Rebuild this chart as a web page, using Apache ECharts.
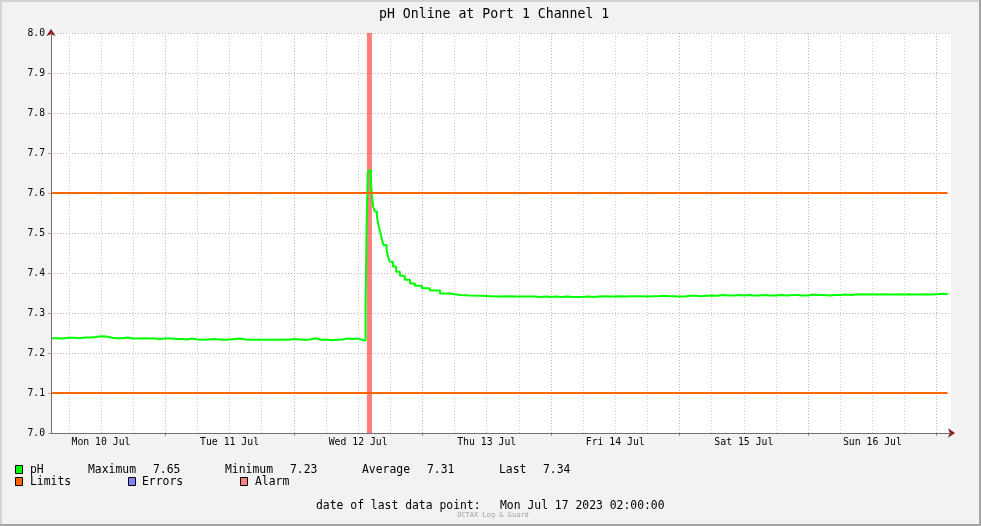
<!DOCTYPE html>
<html><head><meta charset="utf-8">
<script src="https://cdn.jsdelivr.net/npm/echarts@6/dist/echarts.min.js"></script>
<style>
html,body{margin:0;padding:0;background:#f2f2f2;overflow:hidden;}
#chart{position:absolute;left:0;top:0;width:981px;height:526px;}
.b{position:absolute;}
</style></head><body>
<div id="chart"></div>
<div class="b" style="left:0;top:0;width:981px;height:2px;background:#d4d4d4"></div>
<div class="b" style="left:0;top:0;width:2px;height:526px;background:#d4d4d4"></div>
<div class="b" style="right:0;top:0;width:2px;height:526px;background:#a4a4a4"></div>
<div class="b" style="left:0;bottom:0;width:981px;height:2px;background:#a4a4a4"></div>
<script>
const FONT = "'DejaVu Sans Mono', monospace";
const chartTitle = 'pH Online at Port 1 Channel 1';
// time in hours since Mon 10 Jul 2023 00:00
const rangeStart = 2.67, rangeEnd = 170.67;
const yMin = 7.0, yMax = 8.0, yStep = 0.1;
const dayLabelHours = [12, 36, 60, 84, 108, 132, 156];
const dayLabels = ['Mon 10 Jul', 'Tue 11 Jul', 'Wed 12 Jul', 'Thu 13 Jul', 'Fri 14 Jul', 'Sat 15 Jul', 'Sun 16 Jul'];
const midnightHours = [24, 48, 72, 96, 120, 144, 168];
const quarterHours = [6, 12, 18, 30, 36, 42, 54, 60, 66, 78, 84, 90, 102, 108, 114, 126, 132, 138, 150, 156, 162];

const phHours = [2.67,
  3,4,5,6,7,8,9,10,11,12,
  13,14,15,16,17,18,19,20,21,22,
  23,24,25,26,27,28,29,30,31,32,
  33,34,35,36,37,38,39,40,41,42,
  43,44,45,46,47,48,49,50,51,52,
  53,54,55,56,57,58,59,60,61,
  61.4,61.6,61.8,62.0,62.4,62.6,62.8,63.1,63.5,63.8,64.1,64.4,64.7,65.3,65.6,65.9,66.5,67.1,67.8,68.7,69.7,70.6,71.9,73.4,75.3,77.1,79,80.9,83,84.6,86,88,90,
  92,93,94,95,96,97,98,99,100,101,
  102,103,104,105,106,107,108,109,110,111,
  112,113,114,115,116,117,118,119,120,121,
  122,123,124,125,126,127,128,129,130,131,
  132,133,134,135,136,137,138,139,140,141,
  142,143,144,145,146,147,148,149,150,151,
  152,153,154,155,156,157,158,159,160,161,
  162,163,164,165,166,167,168,169,170];
const phValues = [7.237,
  7.237,7.236,7.238,7.238,7.237,7.239,7.239,7.240,7.242,7.241,
  7.238,7.237,7.237,7.239,7.236,7.236,7.237,7.236,7.236,7.235,
  7.236,7.236,7.235,7.235,7.234,7.236,7.234,7.233,7.234,7.235,
  7.234,7.233,7.234,7.235,7.236,7.234,7.233,7.233,7.233,7.233,
  7.233,7.233,7.234,7.233,7.235,7.234,7.233,7.234,7.237,7.233,
  7.234,7.232,7.233,7.234,7.236,7.235,7.236,7.232,7.231,
  7.328,7.533,7.650,7.656,7.624,7.591,7.566,7.554,7.541,7.520,7.503,7.487,7.470,7.458,7.440,7.428,7.416,7.403,7.393,7.383,7.374,7.368,7.362,7.356,7.349,7.345,7.344,7.343,7.342,7.341,7.342,7.341,7.341,
  7.341,7.340,7.341,7.340,7.341,7.340,7.341,7.340,7.340,7.340,
  7.341,7.340,7.341,7.342,7.341,7.341,7.342,7.341,7.342,7.342,
  7.342,7.341,7.342,7.342,7.343,7.342,7.342,7.341,7.341,7.343,
  7.343,7.342,7.343,7.344,7.343,7.345,7.344,7.344,7.345,7.344,
  7.345,7.344,7.344,7.345,7.344,7.344,7.345,7.344,7.345,7.345,
  7.344,7.344,7.346,7.345,7.345,7.344,7.345,7.345,7.346,7.345,
  7.346,7.347,7.346,7.347,7.346,7.347,7.346,7.346,7.347,7.346,
  7.347,7.346,7.346,7.347,7.346,7.347,7.348,7.347,7.345];

const limitHours = [2.67, 170];
const limitUpper = [7.6, 7.6];
const limitLower = [7.1, 7.1];
const alarmStart = 61.64, alarmEnd = 62.58;

const statLabels = ['Maximum', 'Minimum', 'Average', 'Last'];
const statValues = ['7.65', '7.23', '7.31', '7.34'];
const lastDataPoint = 'Mon Jul 17 2023 02:00:00';

const C_PH = '#00ff00', C_LIM = '#ff6600', C_ERR = '#7f7fff', C_ALARM = '#ff7f7f';
const GRID_MAJOR = '#dcaaaa', GRID_MINOR = '#cfcfcf';
const AXIS_GREY = '#707070', ARROW_RED = '#8b1a1a';

const chart = echarts.init(document.getElementById('chart'), null, {renderer: 'canvas'});

const LF = '11.4px ' + FONT;
function txt(x, y, s, extra) {
  return Object.assign({type: 'text', x: x, y: y, silent: true,
    style: {text: s, font: LF, fill: '#000', verticalAlign: 'middle', textVerticalAlign: 'middle'}}, extra || {});
}
function box(x, y, color) {
  return {type: 'rect', silent: true, shape: {x: x + 0.5, y: y + 0.5, width: 7, height: 8},
    style: {fill: color, stroke: '#000', lineWidth: 1}};
}
const statX = [[88, 153], [225, 290], [362, 427], [499, 543]];
const graphics = [
  box(15, 465, C_PH), txt(30, 470, 'pH'),
  box(15, 477, C_LIM), txt(30, 482, 'Limits'),
  box(128, 477, C_ERR), txt(142, 482, 'Errors'),
  box(240, 477, C_ALARM), txt(255, 482, 'Alarm'),
  txt(316, 506, 'date of last data point:'),
  txt(500, 506, lastDataPoint),
  {type: 'text', x: 493, y: 515, silent: true,
   style: {text: 'OCTAX Log & Guard', font: '7px ' + FONT, fill: '#a0a0a0', align: 'center', textAlign: 'center', verticalAlign: 'middle', textVerticalAlign: 'middle'}}
];
statLabels.forEach((l, i) => {
  graphics.push(txt(statX[i][0], 470, l));
  graphics.push(txt(statX[i][1], 470, statValues[i]));
});

const baseX = {
  type: 'value', min: rangeStart, max: rangeEnd, position: 'bottom', gridIndex: 0
};

chart.setOption({
  animation: false,
  backgroundColor: 'transparent',
  title: {
    text: chartTitle, left: 374, top: 3,
    textStyle: {fontFamily: FONT, fontSize: 13.2, fontWeight: 'normal', color: '#000'}
  },
  grid: {left: 51, top: 33, right: 30, bottom: 93, show: true, backgroundColor: '#ffffff', borderWidth: 0},
  xAxis: [
    Object.assign({}, baseX, {
      axisLine: {show: true, lineStyle: {color: ARROW_RED, width: 1}, symbol: ['none', 'arrow'], symbolSize: [7, 7], symbolOffset: [0, 4]},
      axisTick: {show: false, customValues: quarterHours},
      axisLabel: {show: false},
      splitLine: {show: true, lineStyle: {color: GRID_MINOR, width: 1, type: [1, 2]}}
    }),
    Object.assign({}, baseX, {
      axisLine: {show: false},
      axisTick: {show: true, customValues: midnightHours, length: 3, lineStyle: {color: '#d87070'}},
      axisLabel: {show: false},
      splitLine: {show: true, lineStyle: {color: GRID_MAJOR, width: 1, type: [1, 2]}}
    }),
    Object.assign({}, baseX, {
      axisLine: {show: false},
      axisTick: {show: false, customValues: dayLabelHours},
      axisLabel: {show: true, customValues: dayLabelHours, margin: 4,
        formatter: v => dayLabels[dayLabelHours.indexOf(Math.round(v))] || '',
        fontFamily: FONT, fontSize: 9.8, color: '#000'},
      splitLine: {show: false}
    }),
    Object.assign({}, baseX, {
      z: 5,
      axisLine: {show: true, lineStyle: {color: AXIS_GREY, width: 1}},
      axisTick: {show: false}, axisLabel: {show: false}, splitLine: {show: false}
    })
  ],
  yAxis: [
    {
      type: 'value', min: yMin, max: yMax, interval: yStep,
      axisLine: {show: true, lineStyle: {color: ARROW_RED, width: 1}, symbol: ['none', 'arrow'], symbolSize: [7, 7], symbolOffset: [0, 4]},
      axisTick: {show: true, length: 3, lineStyle: {color: '#d8a0a0'}},
      axisLabel: {formatter: v => v.toFixed(1), fontFamily: FONT, fontSize: 9.7, color: '#000', margin: 6},
      splitLine: {show: true, lineStyle: {color: GRID_MAJOR, width: 1, type: [1, 2]}}
    },
    {
      type: 'value', min: yMin, max: yMax, interval: yStep, position: 'left', z: 5,
      axisLine: {show: true, lineStyle: {color: AXIS_GREY, width: 1}},
      axisTick: {show: false}, axisLabel: {show: false}, splitLine: {show: false}
    }
  ],
  graphic: graphics,
  series: [
    {
      name: 'pH', type: 'line', step: 'end', z: 2, symbol: 'none', silent: true,
      lineStyle: {color: C_PH, width: 2}, itemStyle: {color: C_PH},
      data: phHours.map((h, i) => [h, phValues[i]])
    },
    {
      name: 'Limits', type: 'line', z: 3, symbol: 'none', silent: true,
      lineStyle: {color: C_LIM, width: 2},
      data: limitHours.map((h, i) => [h, limitUpper[i]])
    },
    {
      name: 'Limits', type: 'line', z: 3, symbol: 'none', silent: true,
      lineStyle: {color: C_LIM, width: 2},
      data: limitHours.map((h, i) => [h, limitLower[i]])
    },
    {
      name: 'Alarm', type: 'line', z: 4, symbol: 'none', silent: true, data: [],
      markArea: {silent: true, itemStyle: {color: 'rgba(255,0,0,0.5)'},
        data: [[{xAxis: alarmStart}, {xAxis: alarmEnd}]]}
    }
  ]
});
</script>
</body></html>
